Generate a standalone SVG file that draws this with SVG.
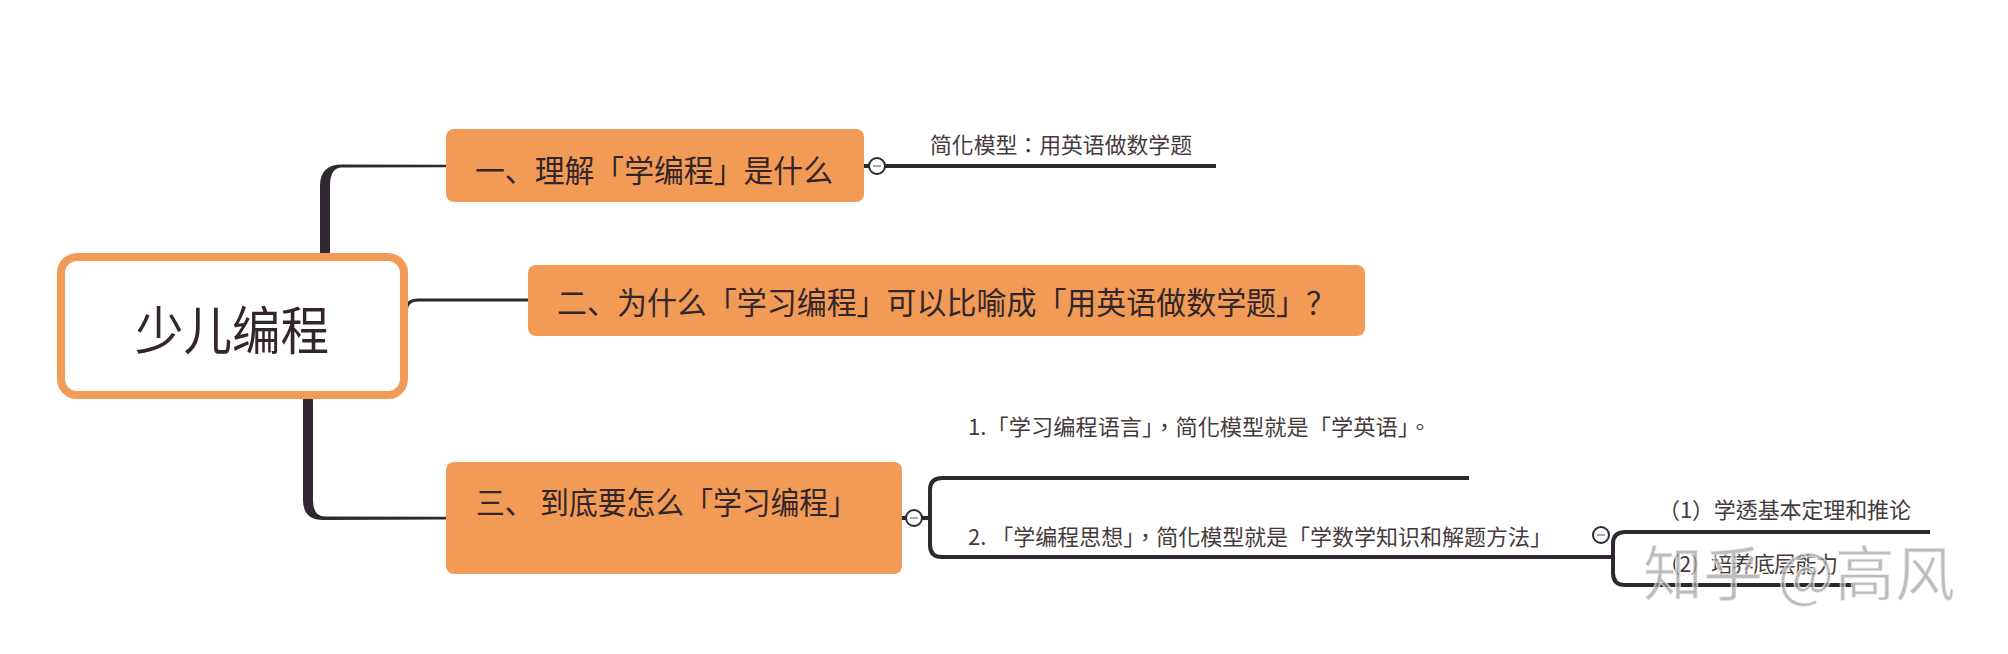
<svg xmlns="http://www.w3.org/2000/svg" width="2008" height="654" viewBox="0 0 2008 654">
<style>
.cjk{font-family:"Noto Sans CJK SC","Noto Sans",sans-serif;}
.tc{font-family:"Noto Sans CJK TC","Noto Sans CJK SC",sans-serif;}
.n1{fill:#F19B57;}
.t1{font-size:31px;fill:#33262a;}
.t2{font-size:22px;fill:#453b3d;}
.ln{stroke:#2f2830;fill:none;}
.fl{fill:#2f2830;}
.col{fill:#fff;stroke:#2f2830;stroke-width:2;}
.mn{stroke:#8a8aa0;stroke-width:1.5;}
</style>
<rect width="2008" height="654" fill="#fff"/>
<g id="connectors">
<path class="fl" d="M320 255 L320 186 Q320 164.5 342 164.5 L446 164.8 L446 167.3 L342 167.5 Q330 167.5 330 186 L330 255 Z"/>
<path class="ln" stroke-width="3" d="M406 310 Q407 300 418 300 L528 300"/>
<path class="fl" d="M303 396 L303 500 Q303 520 323 520 L446 519.5 L446 516.8 L325 516.5 Q313 516.5 313 500 L313 396 Z"/>
<path class="ln" stroke-width="4" d="M864 166 L1216 166"/>
<path class="ln" stroke-width="4" d="M902 518 L930 518 M1469 478 L942 478 Q930 478 930 490 L930 545 Q930 557 942 557 L1613 557"/>
<path class="ln" stroke-width="4" d="M1930 532 L1625 532 Q1613 532 1613 544 L1613 573 Q1613 585 1625 585 L1853 585"/>
</g>
<g id="root">
<rect x="61" y="257" width="343" height="138" rx="16" fill="#fff" stroke="#F19B57" stroke-width="8"/>
<text class="cjk" x="135" y="350" font-size="52" fill="#33262a" textLength="194" lengthAdjust="spacingAndGlyphs">少儿编程</text>
</g>
<g id="node1">
<rect class="n1" x="446" y="129" width="418" height="73" rx="8"/>
<text class="cjk t1" x="475" y="182" textLength="358" lengthAdjust="spacingAndGlyphs">一、理解「学编程」是什么</text>
<circle class="col" cx="877" cy="166" r="8"/>
<line class="mn" x1="873" y1="166" x2="881" y2="166"/>
</g>
<g id="node1-1">
<text class="tc t2" x="930" y="153" textLength="262" lengthAdjust="spacingAndGlyphs">简化模型：用英语做数学题</text>
</g>
<g id="node2">
<rect class="n1" x="528" y="265" width="837" height="71" rx="8"/>
<text class="cjk t1" x="557" y="314" textLength="779" lengthAdjust="spacingAndGlyphs">二、为什么「学习编程」可以比喻成「用英语做数学题」？</text>
</g>
<g id="node3">
<rect class="n1" x="446" y="462" width="456" height="112" rx="8"/>
<text class="cjk t1" x="476" y="514" textLength="381" lengthAdjust="spacingAndGlyphs">三、 到底要怎么「学习编程」</text>
<circle class="col" cx="914" cy="518" r="8"/>
<line class="mn" x1="910" y1="518" x2="918" y2="518"/>
</g>
<g id="node3-1">
<text class="tc t2" x="968" y="435" textLength="463" lengthAdjust="spacingAndGlyphs">1.「学习编程语言」，简化模型就是「学英语」。</text>
</g>
<g id="node3-2">
<text class="tc t2" x="968" y="545" textLength="584" lengthAdjust="spacingAndGlyphs">2. 「学编程思想」，简化模型就是「学数学知识和解题方法」</text>
<circle class="col" cx="1601" cy="535" r="8"/>
<line class="mn" x1="1597" y1="535" x2="1605" y2="535"/>
</g>
<g id="node3-2-1">
<text class="tc t2" x="1658" y="518" textLength="253" lengthAdjust="spacing">（1）学透基本定理和推论</text>
</g>
<g id="node3-2-2">
<text class="tc t2" x="1658" y="572" textLength="180" lengthAdjust="spacing">（2）培养底层能力</text>
</g>
<g id="watermark">
<text class="cjk" x="1643" y="596" font-size="60" fill="#a0a0a0" fill-opacity="0.7" stroke="#fff" stroke-width="1.5" stroke-opacity="0.6" textLength="312" lengthAdjust="spacing">知乎 @高风</text>
</g>
</svg>
